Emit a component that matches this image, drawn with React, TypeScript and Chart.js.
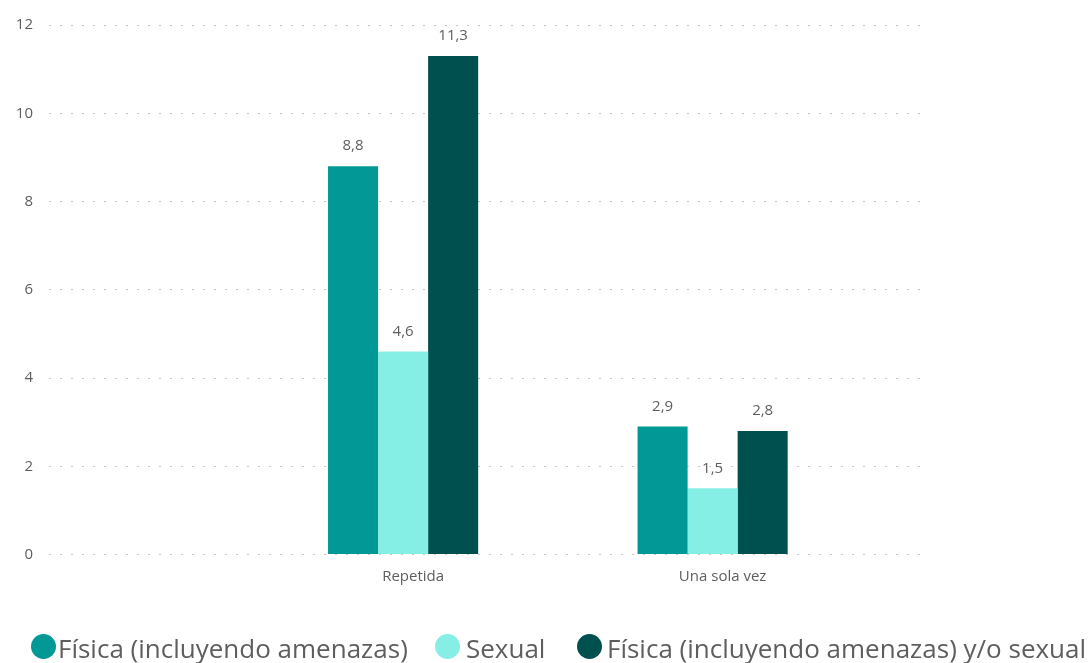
import React, { useEffect, useRef } from 'react';
import { Chart, registerables } from 'chart.js';

Chart.register(...registerables);

const categories = ['Repetida', 'Una sola vez'];
const seriesNames = ['Física (incluyendo amenazas)', 'Sexual', 'Física (incluyendo amenazas) y/o sexual'];
const fisica = [8.8, 2.9];
const sexual = [4.6, 1.5];
const fisicaOSexual = [11.3, 2.8];
const yTicks = [0, 2, 4, 6, 8, 10, 12];
const seriesColors = ['#019896', '#86EFE5', '#00504F'];

const FONT = "'Segoe UI', 'Open Sans', sans-serif";
const TEXT = '#605E5C';

const valueLabels = {
  id: 'valueLabels',
  afterDatasetsDraw(chart: any) {
    const ctx = chart.ctx;
    ctx.save();
    ctx.font = `15px ${FONT}`;
    ctx.fillStyle = TEXT;
    ctx.textAlign = 'center';
    ctx.textBaseline = 'middle';
    chart.data.datasets.forEach((ds: any, i: number) => {
      const meta = chart.getDatasetMeta(i);
      meta.data.forEach((el: any, j: number) => {
        const v = ds.data[j].y;
        ctx.fillText(v.toFixed(1).replace('.', ','), el.x, el.y - 20);
      });
    });
    ctx.restore();
  },
};

const legendLayout = [
  { circle: 31, text: 58 },
  { circle: 435, text: 466 },
  { circle: 577, text: 607 },
];

export default function App() {
  const ref = useRef<HTMLCanvasElement | null>(null);
  useEffect(() => {
    const all = [fisica, sexual, fisicaOSexual];
    const chart = new Chart(ref.current as HTMLCanvasElement, {
      type: 'bar',
      data: {
        datasets: all.map((vals, k) => ({
          label: seriesNames[k],
          data: vals.map((v, i) => ({ x: i + 1, y: v })),
          backgroundColor: seriesColors[k],
          borderWidth: 0,
          categoryPercentage: 0.485,
          barPercentage: 1,
        })),
      },
      options: {
        animation: false,
        responsive: false,
        maintainAspectRatio: false,
        layout: { padding: { top: 22.5, right: 171, bottom: 0, left: 0 } },
        plugins: { legend: { display: false }, tooltip: { enabled: false } },
        scales: {
          x: {
            type: 'linear',
            min: -0.144,
            max: 2.67,
            offset: false,
            grid: { display: false, drawTicks: false },
            border: { display: false },
            afterBuildTicks: (s: any) => {
              s.ticks = categories.map((_, i) => ({ value: i + 1 }));
            },
            afterFit: (s: any) => {
              s.height = 108.5;
            },
            ticks: {
              callback: (v: any) => categories[Number(v) - 1] ?? '',
              autoSkip: false,
              maxRotation: 0,
              padding: 13,
              labelOffset: 10,
              font: { family: FONT, size: 15 },
              color: TEXT,
            },
          },
          y: {
            min: 0,
            max: 12,
            afterBuildTicks: (s: any) => {
              s.ticks = yTicks.map((v) => ({ value: v }));
            },
            afterFit: (s: any) => {
              s.width = 49;
            },
            grid: { color: '#C8C6C4', lineWidth: 1, drawTicks: false },
            border: { display: false, dash: [2, 9] },
            ticks: {
              padding: 16,
              font: { family: FONT, size: 15 },
              color: TEXT,
            },
          },
        },
      } as any,
      plugins: [valueLabels],
    });
    return () => chart.destroy();
  }, []);

  return (
    <div style={{ position: 'fixed', left: 0, top: 0, width: 1091, height: 663, background: '#fff', overflow: 'hidden' }}>
      <canvas ref={ref} width={1091} height={663} style={{ position: 'absolute', left: 0, top: 0 }} />
      {seriesNames.map((name, k) => (
        <React.Fragment key={k}>
          <div
            style={{
              position: 'absolute',
              left: legendLayout[k].circle,
              top: 634,
              width: 25,
              height: 25,
              borderRadius: '50%',
              background: seriesColors[k],
            }}
          />
          <div
            style={{
              position: 'absolute',
              left: legendLayout[k].text,
              top: 632,
              height: 32,
              lineHeight: '32px',
              fontFamily: FONT,
              fontSize: 26,
              color: TEXT,
              whiteSpace: 'nowrap',
            }}
          >
            {name}
          </div>
        </React.Fragment>
      ))}
    </div>
  );
}
